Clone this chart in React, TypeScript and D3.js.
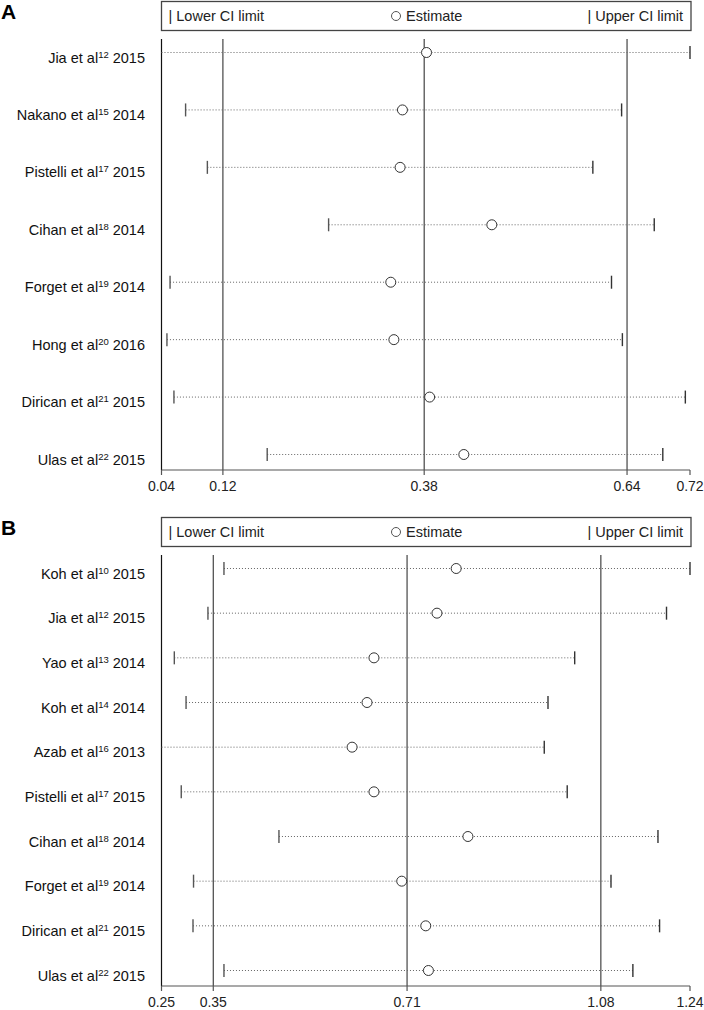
import React, { useRef, useEffect } from "react"
import * as d3 from "d3"

// Panel A: influence of each omitted study
const authorsA = ["Jia et al", "Nakano et al", "Pistelli et al", "Cihan et al", "Forget et al", "Hong et al", "Dirican et al", "Ulas et al"]
const refsA = ["12", "15", "17", "18", "19", "20", "21", "22"]
const yearsA = ["2015", "2014", "2015", "2014", "2014", "2016", "2015", "2015"]
const lowerA = [0.04, 0.071, 0.099, 0.255, 0.051, 0.047, 0.056, 0.176]
const estA = [0.381, 0.35, 0.347, 0.465, 0.335, 0.339, 0.385, 0.429]
const upperA = [0.72, 0.632, 0.595, 0.674, 0.619, 0.633, 0.714, 0.685]
const ticksA = [0.04, 0.119, 0.378, 0.639, 0.72]
const tickLabelsA = ["0.04", "0.12", "0.38", "0.64", "0.72"]
const refLinesA = [0.119, 0.378, 0.639]

// Panel B
const authorsB = ["Koh et al", "Jia et al", "Yao et al", "Koh et al", "Azab et al", "Pistelli et al", "Cihan et al", "Forget et al", "Dirican et al", "Ulas et al"]
const refsB = ["10", "12", "13", "14", "16", "17", "18", "19", "21", "22"]
const yearsB = ["2015", "2015", "2014", "2014", "2013", "2015", "2014", "2014", "2015", "2015"]
const lowerB = [0.367, 0.337, 0.274, 0.296, 0.25, 0.287, 0.47, 0.31, 0.309, 0.367]
const estB = [0.802, 0.766, 0.648, 0.635, 0.607, 0.648, 0.824, 0.7, 0.745, 0.75]
const upperB = [1.24, 1.196, 1.024, 0.974, 0.967, 1.01, 1.18, 1.092, 1.183, 1.133]
const ticksB = [0.25, 0.347, 0.71, 1.073, 1.24]
const tickLabelsB = ["0.25", "0.35", "0.71", "1.08", "1.24"]
const refLinesB = [0.347, 0.71, 1.073]

const FONT = "'Liberation Sans', Arial, sans-serif"

function drawPanel(svg, p) {
    const g = svg.append("g")
    const left = 161.5
    const right = 690
    const boxTop = p.top
    const plotTop = boxTop + 38
    const axisY = plotTop + 431
    const n = p.authors.length

    const x = d3.scaleLinear().domain([p.ticks[0], p.ticks[p.ticks.length - 1]]).range([left, right])
    const y = d3.scalePoint().domain(d3.range(n)).range([plotTop + 13.5, axisY - 15.5])

    // panel letter
    g.append("text")
        .attr("x", 1)
        .attr("y", boxTop + 18)
        .attr("font-size", 21)
        .attr("font-weight", "bold")
        .attr("font-family", FONT)
        .text(p.letter)

    // legend box
    g.append("rect")
        .attr("x", left)
        .attr("y", boxTop + 0.5)
        .attr("width", right + 1 - left)
        .attr("height", 29)
        .attr("fill", "none")
        .attr("stroke", "#444")
        .attr("stroke-width", 1.3)
    const ly = boxTop + 20
    g.append("text").attr("x", left + 7).attr("y", ly).text("| Lower CI limit")
        .attr("font-size", 14.5).attr("font-family", FONT).attr("fill", "#222")
    g.append("circle").attr("cx", 396).attr("cy", ly - 5).attr("r", 4.5)
        .attr("fill", "none").attr("stroke", "#555").attr("stroke-width", 1)
    g.append("text").attr("x", 406).attr("y", ly).text("Estimate")
        .attr("font-size", 14.5).attr("font-family", FONT).attr("fill", "#222")
    g.append("text").attr("x", right - 7).attr("y", ly).attr("text-anchor", "end").text("| Upper CI limit")
        .attr("font-size", 14.5).attr("font-family", FONT).attr("fill", "#222")

    // left axis line and reference lines
    g.append("line").attr("x1", left).attr("x2", left).attr("y1", plotTop).attr("y2", axisY)
        .attr("stroke", "#111").attr("stroke-width", 1.2)
    g.selectAll(".ref").data(p.refLines).enter().append("line")
        .attr("x1", (d) => x(d)).attr("x2", (d) => x(d))
        .attr("y1", plotTop).attr("y2", axisY)
        .attr("stroke", "#444").attr("stroke-width", 1.2)

    // bottom axis
    g.append("line").attr("x1", left).attr("x2", right).attr("y1", axisY).attr("y2", axisY)
        .attr("stroke", "#555").attr("stroke-width", 1.2)
    g.selectAll(".tick").data(p.ticks).enter().append("line")
        .attr("x1", (d) => x(d)).attr("x2", (d) => x(d))
        .attr("y1", axisY).attr("y2", axisY + 5)
        .attr("stroke", "#555").attr("stroke-width", 1.2)
    g.selectAll(".tl").data(p.ticks).enter().append("text")
        .attr("x", (d) => x(d)).attr("y", axisY + 21)
        .attr("text-anchor", "middle")
        .attr("font-size", 14).attr("font-family", FONT).attr("fill", "#222")
        .text((d, i) => p.tickLabels[i])

    // rows
    const rows = g.selectAll(".row").data(d3.range(n)).enter().append("g")
    rows.append("line")
        .attr("x1", (i) => x(p.lower[i])).attr("x2", (i) => x(p.upper[i]))
        .attr("y1", (i) => y(i)).attr("y2", (i) => y(i))
        .attr("stroke", "#666").attr("stroke-width", 1).attr("stroke-dasharray", "1 2")
    rows.filter((i) => p.lower[i] > p.ticks[0]).append("line")
        .attr("x1", (i) => x(p.lower[i])).attr("x2", (i) => x(p.lower[i]))
        .attr("y1", (i) => y(i) - 6.5).attr("y2", (i) => y(i) + 6.5)
        .attr("stroke", "#555").attr("stroke-width", 1.4)
    rows.append("line")
        .attr("x1", (i) => x(p.upper[i])).attr("x2", (i) => x(p.upper[i]))
        .attr("y1", (i) => y(i) - 6.5).attr("y2", (i) => y(i) + 6.5)
        .attr("stroke", "#333").attr("stroke-width", 1.4)
    rows.append("circle")
        .attr("cx", (i) => x(p.est[i])).attr("cy", (i) => y(i)).attr("r", 5)
        .attr("fill", "white").attr("stroke", "#333").attr("stroke-width", 1)

    const lab = rows.append("text")
        .attr("x", 145).attr("y", (i) => y(i) + 10)
        .attr("text-anchor", "end")
        .attr("font-size", 14.5).attr("font-family", FONT).attr("fill", "#111")
    lab.append("tspan").text((i) => p.authors[i])
    lab.append("tspan").attr("font-size", 9.5).attr("dy", -5).text((i) => p.refs[i])
    lab.append("tspan").attr("dy", 5).text((i) => " " + p.years[i])
}

export default function App() {
    const ref = useRef(null)

    useEffect(() => {
        const svg = d3.select(ref.current)
        svg.selectAll("*").remove()
        drawPanel(svg, {
            top: 1, letter: "A", authors: authorsA, refs: refsA, years: yearsA,
            lower: lowerA, est: estA, upper: upperA, ticks: ticksA, tickLabels: tickLabelsA, refLines: refLinesA,
        })
        drawPanel(svg, {
            top: 517, letter: "B", authors: authorsB, refs: refsB, years: yearsB,
            lower: lowerB, est: estB, upper: upperB, ticks: ticksB, tickLabels: tickLabelsB, refLines: refLinesB,
        })
    }, [])

    return (
        <svg
            ref={ref}
            width={704}
            height={1010}
            style={{ position: "absolute", left: 0, top: 0, background: "white" }}
        />
    )
}
